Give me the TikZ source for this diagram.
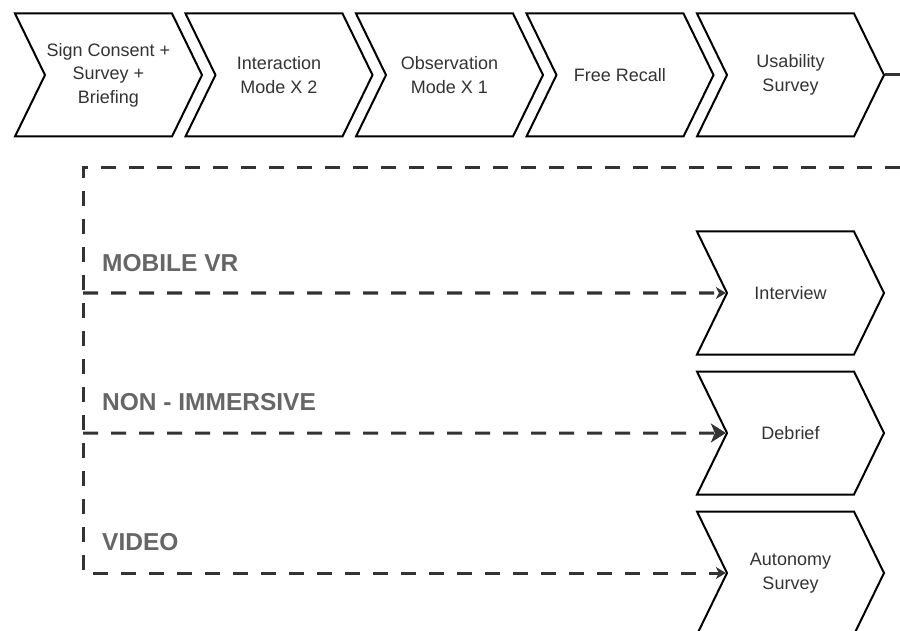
\documentclass[tikz,border=0pt]{standalone}
\usepackage{fontspec}
\setmainfont{Liberation Sans}
\usetikzlibrary{arrows.meta,shapes.symbols}
\definecolor{textgray}{HTML}{333333}
\definecolor{labelgray}{HTML}{666666}
\definecolor{dashgray}{HTML}{333333}
\tikzset{
  study diagram/.style={x=1pt, y=1pt, line join=miter},
  chevronbox/.style={
    draw=black,
    line width=2pt,
    signal,
    signal from=west,
    signal to=east,
    signal pointer angle=128,
    minimum width=187pt,
    minimum height=123pt,
    inner sep=0pt,
    align=center,
    text=textgray,
    font=\fontsize{18}{23.5}\selectfont
  },
  modelabel/.style={
    anchor=base west,
    inner sep=0pt,
    text=labelgray,
    font=\fontsize{24.5}{28}\selectfont\bfseries
  },
  dashflow/.style={draw=dashgray, line width=3pt, dash pattern=on 15pt off 13pt},
  stubline/.style={draw=dashgray, line width=3pt},
  smallhead/.style={-{Stealth[length=10pt,width=12pt,inset=3pt]}},
  bighead/.style={-{Stealth[length=15pt,width=19pt,inset=4pt]}}
}
\begin{document}
\begin{tikzpicture}[study diagram]
\useasboundingbox (0,0) rectangle (900,-631);
% session steps
\node[chevronbox] (consent) at (108.5,-75) {Sign Consent +\\Survey +\\Briefing};
\node[chevronbox] (interact) at (279,-75) {Interaction\\Mode X 2};
\node[chevronbox] (observe) at (449.5,-75) {Observation\\Mode X 1};
\node[chevronbox] (recall) at (620,-75) {Free Recall};
\node[chevronbox] (usability) at (790.5,-75) {Usability\\Survey};
% closing steps
\node[chevronbox] (interview) at (790.5,-293) {Interview};
\node[chevronbox] (debrief) at (790.5,-433) {Debrief};
\node[chevronbox] (autonomy) at (790.5,-573) {Autonomy\\Survey};
% condition labels
\node[modelabel] (mobile) at (102,-272) {MOBILE VR};
\node[modelabel] (nonimm) at (102,-410) {NON - IMMERSIVE};
\node[modelabel] (video) at (102,-550) {VIDEO};
\coordinate (exit) at (900,-75);
\coordinate (return) at (900,-168);
\coordinate (trunk) at (83,-168);
\coordinate (forkA) at (83,-293);
\coordinate (forkB) at (83,-433);
\coordinate (forkC) at (83,-573);
\draw[stubline] (usability.east) -- (exit);
\draw[dashflow, smallhead] (return) -- (trunk) -- (forkC) -- (autonomy);
\draw[dashflow, smallhead] (forkA) -- (interview);
\draw[dashflow, bighead] (forkB) -- (debrief);
\end{tikzpicture}
\end{document}
